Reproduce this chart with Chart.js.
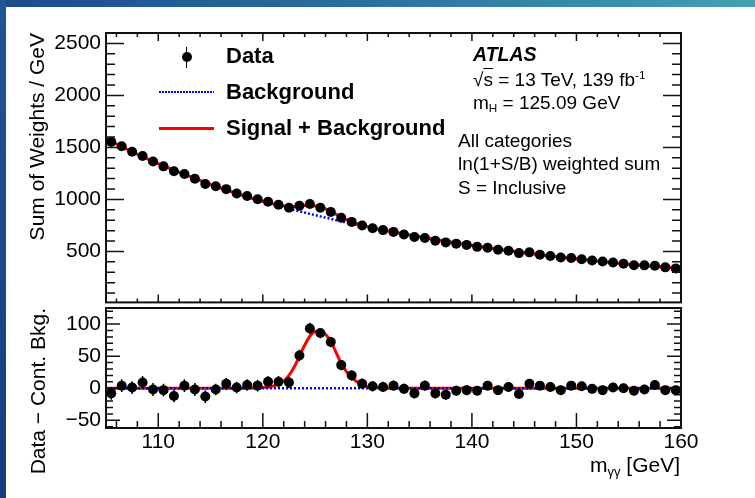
<!DOCTYPE html>
<html>
<head>
<meta charset="utf-8">
<script src="https://cdn.jsdelivr.net/npm/chart.js@4.4.1/dist/chart.umd.min.js"></script>
<style>
  html, body { margin: 0; padding: 0; }
  body {
    width: 755px; height: 498px; position: relative; overflow: hidden;
    background: #fff; color: #000;
    font-family: "Liberation Sans", Arial, Helvetica, sans-serif;
  }
  #topband { position: absolute; left: 0; top: 0; width: 755px; height: 7px;
    background: linear-gradient(to right, #1d4a8a, #2a72a0 50%, #43a0b3); }
  #leftband { position: absolute; left: 0; top: 0; width: 6px; height: 498px;
    background: linear-gradient(#22548f, #1a3c78); }
  canvas { position: absolute; left: 0; }
  #upper { top: 0; }
  #lower { top: 290px; }
  .t { position: absolute; white-space: nowrap; line-height: 1; }
  .b { font-weight: bold; font-size: 22px; }
  .n { font-size: 19px; }
  .sup { font-size: 0.62em; position: relative; top: -0.6em; }
  .sub { font-size: 0.62em; position: relative; top: 0.3em; }
  .ytitle { position: absolute; font-size: 21px; line-height: 1; white-space: nowrap;
    writing-mode: vertical-rl; transform: rotate(180deg); }
  .key { position: absolute; }
</style>
</head>
<body>
<div id="topband"></div>
<div id="leftband"></div>
<canvas id="upper" width="755" height="320"></canvas>
<canvas id="lower" width="755" height="208"></canvas>

<!-- legend -->
<div class="key" style="left:185.75px;top:46.5px;width:1.5px;height:21px;background:#000"></div>
<div class="key" style="left:181.5px;top:52px;width:10px;height:10px;border-radius:50%;background:#000"></div>
<div class="t b" style="left:226px;top:45.4px">Data</div>
<div class="key" style="left:159px;top:90.5px;width:55px;height:2.5px;background:repeating-linear-gradient(to right,#0000ff 0 1.8px,transparent 1.8px 3px)"></div>
<div class="t b" style="left:226px;top:81.4px">Background</div>
<div class="key" style="left:159px;top:127px;width:55px;height:2.6px;background:#ff0000"></div>
<div class="t b" style="left:226px;top:117.4px">Signal + Background</div>

<!-- labels -->
<div class="t" style="left:473px;top:44.5px;font-size:19.5px;font-weight:bold;font-style:italic">ATLAS</div>
<div class="t n" style="left:473px;top:69.9px">√<span style="text-decoration:overline">s</span> = 13 TeV, 139 fb<span class="sup">-1</span></div>
<div class="t n" style="left:473px;top:92.9px">m<span class="sub">H</span> = 125.09 GeV</div>
<div class="t n" style="left:458px;top:130.9px">All categories</div>
<div class="t n" style="left:458px;top:153.9px">ln(1+S/B) weighted sum</div>
<div class="t n" style="left:458px;top:177.9px">S = Inclusive</div>

<div class="ytitle" style="left:26.2px;top:33px">Sum of Weights / GeV</div>
<div class="ytitle" style="left:27.2px;top:308px">Data − Cont. Bkg.</div>
<div class="t" style="right:75px;top:454.2px;font-size:21px">m<span class="sub">γγ</span> [GeV]</div>

<script>
// diphoton mass bins (GeV), 1 GeV wide
const binCenters = [105.5, 106.5, 107.5, 108.5, 109.5, 110.5, 111.5, 112.5, 113.5, 114.5,
  115.5, 116.5, 117.5, 118.5, 119.5, 120.5, 121.5, 122.5, 123.5, 124.5,
  125.5, 126.5, 127.5, 128.5, 129.5, 130.5, 131.5, 132.5, 133.5, 134.5,
  135.5, 136.5, 137.5, 138.5, 139.5, 140.5, 141.5, 142.5, 143.5, 144.5,
  145.5, 146.5, 147.5, 148.5, 149.5, 150.5, 151.5, 152.5, 153.5, 154.5,
  155.5, 156.5, 157.5, 158.5, 159.5];

// weighted data per bin
const sumWeights = [1553, 1512, 1459, 1418, 1365, 1318, 1271, 1245, 1198, 1149,
  1127, 1099, 1057, 1033, 1001, 977, 948, 920, 939, 956,
  921, 879, 824, 784, 749, 723, 705, 688, 663, 638,
  629, 603, 587, 575, 563, 544, 536, 516, 507, 484,
  491, 469, 456, 441, 437, 425, 413, 403, 394, 381,
  368, 366, 362, 347, 337];

// data minus continuum background
const residuals = [-8, 4, 1, 9, -2, -3, -12, 4, -2, -13,
  -2, 7, 1, 5, 4, 10, 10, 9, 51, 93,
  86, 72, 36, 20, 7, 3, 2, 4, -1, -8,
  4, -8, -10, -4, -3, -4, 4, -3, 2, -9,
  7, 4, 2, -3, 4, 3, -1, -3, 1, 0,
  -4, -2, 5, -3, -3];

const statErrors = [10, 10, 10, 10, 10, 10, 10, 10, 10, 10,
  9, 9, 9, 9, 9, 9, 9, 9, 9, 9,
  8, 8, 8, 8, 8, 8, 8, 8, 8, 8,
  8, 8, 8, 8, 8, 7, 7, 7, 7, 7,
  7, 7, 7, 7, 7, 7, 7, 7, 7, 7,
  7, 7, 7, 7, 7];

// fitted curves
const curveMass = [105, 107.5, 110, 112.5, 115, 117.5, 120, 121, 122, 122.5,
  123, 123.5, 124, 124.5, 125, 125.5, 126, 126.5, 127, 127.5,
  128, 128.5, 129, 129.5, 130, 131, 132.5, 135, 137.5, 140,
  142.5, 145, 147.5, 150, 152.5, 155, 157.5, 160];
const bkgFit = [1585, 1458, 1344, 1241, 1145, 1057, 982, 954, 926, 912,
  899, 886, 874, 861, 849, 837, 825, 813, 801, 790,
  779, 768, 757, 747, 736, 715, 686, 641, 598, 558,
  520, 488, 456, 428, 402, 377, 356, 336];
const signalFit = [0, 0, 0, 0, 0, 0, 1, 3.5, 11, 20,
  33, 50, 67, 81, 88.5, 89, 84, 73, 56, 39,
  26, 17, 10, 5, 2.5, 0.8, 0, 0, 0, 0,
  0, 0, 0, 0, 0, 0, 0, 0];

const upperTicks = [500, 1000, 1500, 2000, 2500];
const lowerTicks = [-50, 0, 50, 100];
const massTicks = [110, 120, 130, 140, 150, 160];

const FONT = '"Liberation Sans", Arial, Helvetica, sans-serif';

const points = vals => binCenters.map((x, i) => ({ x, y: vals[i] }));
const curve = vals => curveMass.map((x, i) => ({ x, y: vals[i] }));
const sbFit = bkgFit.map((b, i) => b + signalFit[i]);

// inward ticks on every side plus the frame
const frameTicks = {
  id: 'frameTicks',
  afterDraw(chart, args, o) {
    const { ctx, chartArea: a, scales: { x, y } } = chart;
    ctx.save();
    ctx.strokeStyle = '#111';
    ctx.lineWidth = 1.5;
    ctx.beginPath();
    const k0 = Math.ceil(y.min / o.yStep), k1 = Math.floor(y.max / o.yStep);
    for (let k = k0; k <= k1; k++) {
      const v = k * o.yStep;
      const len = v % o.yMajor === 0 ? o.yMajorLen : o.yMinorLen;
      const py = y.getPixelForValue(v);
      ctx.moveTo(a.left, py); ctx.lineTo(a.left + len, py);
      ctx.moveTo(a.right, py); ctx.lineTo(a.right - len, py);
    }
    const j0 = Math.ceil(x.min / o.xStep), j1 = Math.floor(x.max / o.xStep);
    for (let j = j0; j <= j1; j++) {
      const v = j * o.xStep;
      const len = v % o.xMajor === 0 ? o.xMajorLen : o.xMinorLen;
      const px = x.getPixelForValue(v);
      if (o.bottom) { ctx.moveTo(px, a.bottom); ctx.lineTo(px, a.bottom - len); }
      if (o.top) { ctx.moveTo(px, a.top); ctx.lineTo(px, a.top + len); }
    }
    ctx.stroke();
    ctx.lineWidth = 2;
    ctx.strokeRect(a.left, a.top, a.right - a.left, a.bottom - a.top);
    ctx.restore();
  }
};

// vertical error bars on the data dataset (index 0)
const errorBars = {
  id: 'errorBars',
  afterDatasetsDraw(chart, args, o) {
    const { ctx, scales: { x, y } } = chart;
    const data = chart.data.datasets[0].data;
    ctx.save();
    ctx.strokeStyle = '#000';
    ctx.lineWidth = 1.5;
    ctx.beginPath();
    data.forEach((p, i) => {
      const px = x.getPixelForValue(p.x);
      ctx.moveTo(px, y.getPixelForValue(p.y - o.errors[i]));
      ctx.lineTo(px, y.getPixelForValue(p.y + o.errors[i]));
    });
    ctx.stroke();
    ctx.restore();
  }
};

const dataStyle = {
  showLine: false, pointRadius: 5, pointHoverRadius: 5,
  pointBackgroundColor: '#000', pointBorderWidth: 0
};
const redLine = { borderColor: '#ff0000', borderWidth: 3, pointRadius: 0, cubicInterpolationMode: 'monotone' };
const blueDots = { borderColor: '#0000ff', borderWidth: 2.5, borderDash: [2, 2], pointRadius: 0, cubicInterpolationMode: 'monotone' };

const yAxis = (min, max, ticks, fmt) => ({
  type: 'linear', min, max,
  afterFit: s => { s.width = 106; },
  afterBuildTicks: s => { s.ticks = ticks.map(value => ({ value })); },
  grid: { display: false, drawTicks: false },
  border: { display: false },
  ticks: { padding: 5, color: '#000', font: { family: FONT, size: 21 }, callback: fmt }
});

new Chart(document.getElementById('upper'), {
  type: 'line',
  data: {
    datasets: [
      { data: points(sumWeights), ...dataStyle },
      { data: curve(sbFit), ...redLine },
      { data: curve(bkgFit), ...blueDots }
    ]
  },
  options: {
    responsive: false, animation: false,
    layout: { padding: { left: 0, top: 33, right: 74, bottom: 12 } },
    plugins: {
      legend: { display: false }, tooltip: { enabled: false },
      errorBars: { errors: statErrors },
      frameTicks: { yStep: 100, yMajor: 500, yMajorLen: 18, yMinorLen: 9,
        xStep: 2, xMajor: 10, xMajorLen: 8, xMinorLen: 4, top: true, bottom: true }
    },
    scales: {
      x: { type: 'linear', min: 105, max: 160, display: false },
      y: yAxis(10, 2600, upperTicks, v => String(v))
    }
  },
  plugins: [errorBars, frameTicks]
});

new Chart(document.getElementById('lower'), {
  type: 'line',
  data: {
    datasets: [
      { data: points(residuals), ...dataStyle },
      { data: curve(bkgFit.map(() => 0)), ...blueDots },
      { data: curve(signalFit), ...redLine }
    ]
  },
  options: {
    responsive: false, animation: false,
    layout: { padding: { left: 0, top: 18, right: 74, bottom: 0 } },
    plugins: {
      legend: { display: false }, tooltip: { enabled: false },
      errorBars: { errors: statErrors },
      frameTicks: { yStep: 10, yMajor: 50, yMajorLen: 14, yMinorLen: 7,
        xStep: 2, xMajor: 10, xMajorLen: 15, xMinorLen: 7, top: false, bottom: true }
    },
    scales: {
      x: {
        type: 'linear', min: 105, max: 160,
        afterFit: s => { s.height = 70; },
        afterBuildTicks: s => { s.ticks = massTicks.map(value => ({ value })); },
        grid: { display: false, drawTicks: false },
        border: { display: false },
        ticks: { padding: 2, color: '#000', maxRotation: 0, autoSkip: false,
          font: { family: FONT, size: 21 }, callback: v => String(v) }
      },
      y: yAxis(-62, 125, lowerTicks, v => v < 0 ? '\u2212' + Math.abs(v) : String(v))
    }
  },
  plugins: [errorBars, frameTicks]
});
</script>
</body>
</html>
